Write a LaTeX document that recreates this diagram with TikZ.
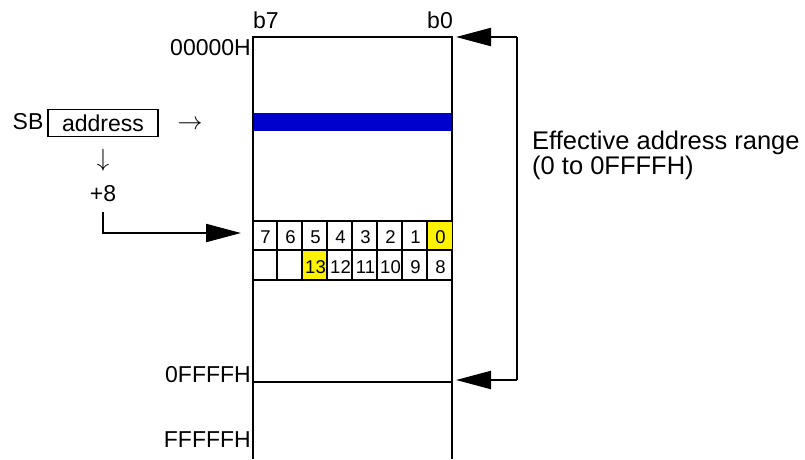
\documentclass[tikz,border=0pt]{standalone}
\usepackage{fontspec}
\setmainfont{Liberation Sans}
\usetikzlibrary{arrows.meta}
\begin{document}
\begin{tikzpicture}[x=1pt,y=-1pt,
  lbl/.style={inner sep=0pt,font=\fontsize{23}{23}\selectfont},
  bitn/.style={inner sep=0pt,font=\fontsize{18.5}{19}\selectfont},
  mem/.style={line width=1.8pt},
  bigarrow/.style={line width=2.2pt,-{Triangle[length=35pt,width=18pt]}},
  cellc/.style={line width=1.3pt}]
\useasboundingbox (0,0) rectangle (805,459);
% memory
\coordinate (tl) at (253,37);
\coordinate (tr) at (452,37);
\fill[blue!80!black] (253,113) rectangle (452,131);
\draw[mem] (253,459) -- (tl) -- (tr) -- (452,459);
\draw[mem] (253,382) coordinate (fl) -- (452,382) coordinate (fr);
% bit rows
\fill[yellow] (427,221) rectangle (452,250);
\fill[yellow] (302,250) rectangle (327,280);
\draw[mem] (253,221) -- (452,221);
\draw[cellc] (253,250) -- (452,250);
\draw[mem] (253,280) -- (452,280);
\foreach \x in {277,302,327,352,377,402,427} {\draw[cellc] (\x,221) -- (\x,280);}
\foreach \t [count=\i from 0] in {0,1,2,3,4,5,6,7} {
  \node[bitn] (bt\t) at ({440.5-25*\i},237) {\t};
}
\foreach \t [count=\i from 0] in {8,9,10,11,12,13} {
  \node[bitn] (bb\t) at ({440.5-25*\i},267) {\t};
}
% labels
\node[lbl,anchor=west] (b7) at (253,20) {b7};
\node[lbl,anchor=east] (b0) at (453,20) {b0};
\node[lbl,anchor=east] (a0) at (251,48) {00000H};
\node[lbl,anchor=east] (a1) at (251,375) {0FFFFH};
\node[lbl,anchor=east] (a2) at (251,440) {FFFFFH};
% range arrows
\coordinate (rt) at (517,37);
\coordinate (rb) at (517,380);
\draw[line width=2.2pt] (rt) -- (rb);
\draw[bigarrow] (rt) -- (456,37);
\draw[bigarrow] (rb) -- (456,380);
\node[inner sep=0pt,anchor=west,align=left,font=\fontsize{25.5}{22}\selectfont] (eff) at (532,155.5) {Effective address range\\(0 to 0FFFFH)};
% SB address
\node[lbl] (sb) at (28,122) {SB};
\node[lbl,draw,line width=1.2pt,minimum width=110pt,minimum height=27pt] (addr) at (103,123) {address};
\node[inner sep=0pt,font=\fontsize{23}{23}\selectfont] (ra) at (190,125) {$\rightarrow$};
\node[inner sep=0pt,font=\fontsize{23}{23}\selectfont] (da) at (103,160) {$\downarrow$};
\node[lbl] (p8) at (103,194) {+8};
\coordinate (c1) at (103,212);
\coordinate (c2) at (103,233);
\draw[bigarrow] (c1) -- (c2) -- (241,233);
\end{tikzpicture}
\end{document}
